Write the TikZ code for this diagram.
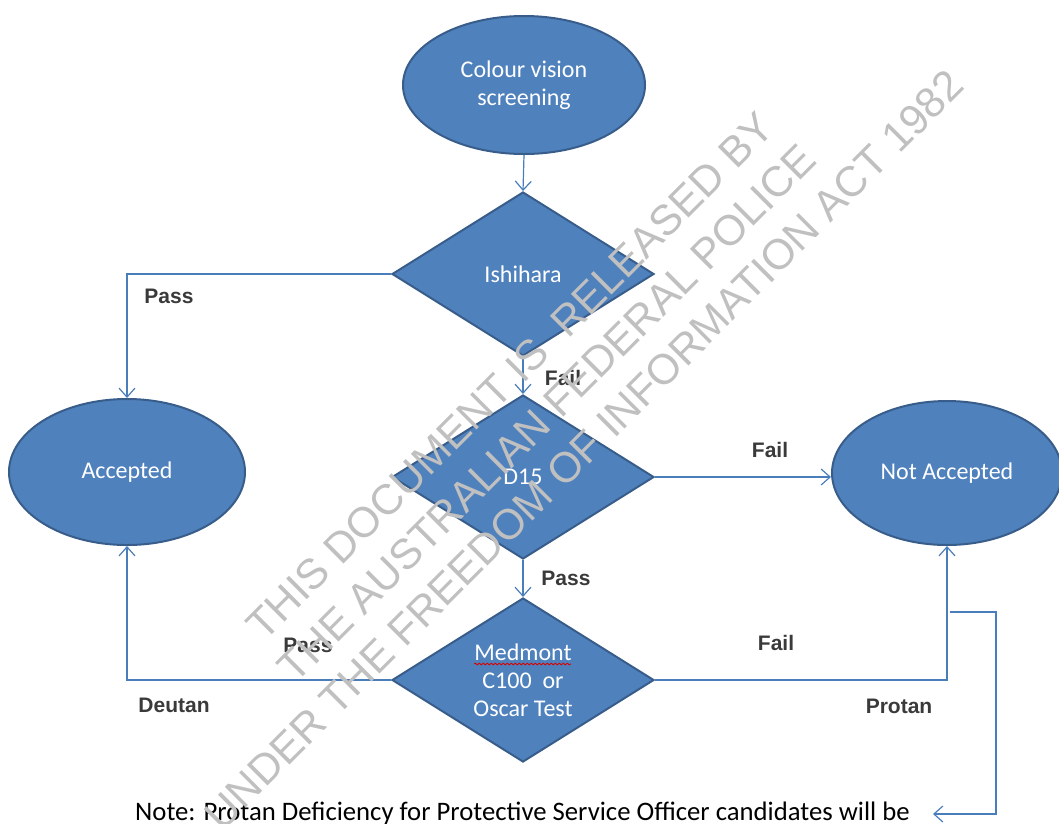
\documentclass[tikz,border=0pt]{standalone}
\usepackage{fontspec}
\setmainfont{Carlito}
\newfontfamily\lblfont{Liberation Sans}
\usetikzlibrary{arrows.meta,shapes.geometric,decorations.pathmorphing}
\definecolor{Fill}{HTML}{4F81BD}
\definecolor{Edge}{HTML}{385D8A}
\definecolor{Wire}{HTML}{4A7EBB}
\definecolor{Mark}{HTML}{C0C0C0}
\definecolor{Label}{HTML}{3A3A3A}
\tikzset{
  stage/.style={ellipse, fill=Fill, draw=Edge, line width=2pt, text=white, align=center,
    font=\fontsize{24}{28}\selectfont, inner sep=0pt},
  test/.style={diamond, shape aspect=1.6, fill=Fill, draw=Edge, line width=2pt, text=white,
    align=center, font=\fontsize{24}{28}\selectfont, inner sep=0pt,
    minimum width=262pt, minimum height=164pt},
  flow/.style={Wire, line width=1.2pt, -{Straight Barb[length=9pt,width=16pt]}},
  tag/.style={text=Label, font=\lblfont\bfseries\fontsize{21}{24}\selectfont}
}

\begin{document}
\begin{tikzpicture}[x=1pt,y=-1pt]
  \useasboundingbox (0,0) rectangle (1059,823);
  \node[stage, minimum width=242pt, minimum height=138pt] (screen) at (524,85) {Colour vision\\screening};
  \node[test] (ishihara) at (523,274) {Ishihara};
  \node[test] (dfifteen) at (523,477) {D15};
  \node[test] (medmont) at (523,680) {Medmont\\C100~~or\\Oscar Test};
  \node[stage, minimum width=236pt, minimum height=146pt] (accepted) at (127,472) {Accepted};
  \node[stage, minimum width=230pt, minimum height=144pt] (notacc) at (947,473) {Not Accepted};
  \draw[red!85!black, line width=0.8pt, decorate, decoration={snake, amplitude=0.9pt, segment length=4pt}]
    (474,664) -- (571,664);

  \draw[flow] (screen.south) -- (ishihara.north);
  \draw[flow] (ishihara.south) -- (dfifteen.north);
  \draw[flow] (ishihara.west) -| (accepted.north);
  \draw[flow] (dfifteen.east) -- (dfifteen.east -| notacc.west);
  \draw[flow] (dfifteen.south) -- (medmont.north);
  \draw[flow] (medmont.west) -| (accepted.south);
  \draw[flow] (medmont.east) -| (notacc.south);

  \node[tag] (failA) at (563,378) {Fail};
  \node[tag] (passA) at (169,296) {Pass};
  \node[tag] (failB) at (770,450) {Fail};
  \node[tag] (passB) at (566,578) {Pass};
  \node[tag] (passC) at (308,645) {Pass};
  \node[tag] (deutan) at (174,705) {Deutan};
  \node[tag] (failC) at (776,643) {Fail};
  \node[tag] (protan) at (899,706) {Protan};

  \node[anchor=base west, inner sep=0pt, font=\fontsize{26.7}{30}\selectfont] (note) at (135,820)
    {Note: Protan Deficiency for Protective Service Officer candidates will be};
  \coordinate (brkA) at (950,612);
  \coordinate (brkB) at (933,814);
  \draw[flow] (brkA) -- ++(46,0) |- (brkB);

  \node[text=Mark, font=\lblfont\fontsize{42.5}{52}\selectfont, rotate=45, align=center] (stamp) at (547,413)
    {THIS DOCUMENT IS~~RELEASED BY\\THE AUSTRALIAN FEDERAL POLICE\\UNDER THE FREEDOM OF INFORMATION ACT 1982};
\end{tikzpicture}
\end{document}
